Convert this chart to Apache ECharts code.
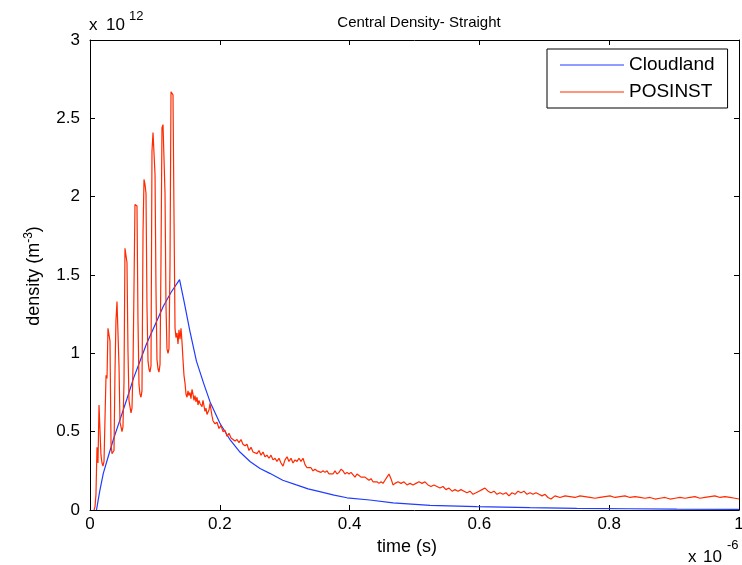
<!DOCTYPE html>
<html>
<head>
<meta charset="utf-8">
<script src="https://cdn.jsdelivr.net/npm/echarts@6/dist/echarts.min.js"></script>
<style>
html,body{margin:0;padding:0;background:#fff;}
#chart{width:742px;height:565px;}
</style>
</head>
<body>
<div id="chart"></div>
<script>
// time in units of 1e-6 s, density in units of 1e12 m^-3
var chartTitle = 'Central Density- Straight';
var seriesNames = ['Cloudland', 'POSINST'];
var xTicks = [0, 0.2, 0.4, 0.6, 0.8, 1];
var yTicks = [0, 0.5, 1, 1.5, 2, 2.5, 3];

var cloudland = [
  [0.010,0],[0.015,0.12],[0.0205,0.234],[0.028,0.34],[0.036,0.45],[0.046,0.574],
  [0.057,0.71],[0.067,0.84],[0.077,0.95],[0.087,1.06],[0.100,1.18],[0.113,1.30],
  [0.125,1.39],[0.138,1.47],[0.145,1.33],[0.154,1.14],[0.164,0.95],[0.175,0.81],
  [0.185,0.69],[0.200,0.555],[0.216,0.447],[0.231,0.37],[0.247,0.308],[0.262,0.265],
  [0.277,0.234],[0.297,0.19],[0.318,0.16],[0.336,0.135],[0.354,0.117],[0.376,0.095],
  [0.396,0.078],[0.431,0.064],[0.467,0.046],[0.524,0.030],[0.596,0.021],[0.678,0.015],
  [0.750,0.011],[0.830,0.008],[0.904,0.006],[1.000,0.004]
];

var posinst = [
  [0.0062,0],[0.0077,0.02],[0.0092,0.10],[0.0108,0.40],[0.0123,0.30],[0.0139,0.67],
  [0.0154,0.66],[0.0169,0.35],[0.0185,0.30],[0.0200,0.28],[0.0216,0.31],[0.0231,0.58],
  [0.0247,0.86],[0.0262,0.84],[0.0277,1.16],[0.0293,1.15],[0.0308,1.08],[0.0324,0.42],
  [0.0339,0.36],[0.0354,0.35],[0.0370,0.38],[0.0385,0.88],[0.0400,1.21],[0.0416,1.33],
  [0.0431,1.32],[0.0447,0.92],[0.0462,0.56],[0.0478,0.53],[0.0493,0.50],[0.0508,0.53],
  [0.0524,0.82],[0.0539,1.67],[0.0555,1.66],[0.0570,1.58],[0.0585,1.02],[0.0601,0.70],
  [0.0616,0.66],[0.0632,0.62],[0.0647,0.65],[0.0663,0.92],[0.0678,1.42],[0.0693,1.95],
  [0.0709,1.96],[0.0724,1.94],[0.0739,1.22],[0.0755,0.80],[0.0770,0.74],[0.0786,0.72],
  [0.0801,0.76],[0.0817,1.77],[0.0832,2.11],[0.0847,2.08],[0.0863,2.02],[0.0878,1.30],
  [0.0894,0.95],[0.0909,0.90],[0.0924,0.88],[0.0940,0.92],[0.0955,2.29],[0.0971,2.41],
  [0.0986,2.40],[0.1002,2.14],[0.1017,1.40],[0.1032,0.96],[0.1048,0.90],[0.1063,0.88],
  [0.1079,0.93],[0.1094,1.60],[0.1109,2.44],[0.1125,2.46],[0.1140,2.45],[0.1156,2.02],
  [0.1171,1.30],[0.1186,1.03],[0.1202,1.00],[0.1217,1.03],[0.1233,1.58],[0.1248,2.67],
  [0.1263,2.66],[0.1279,2.65],[0.1294,1.89],[0.1310,1.16],[0.1325,1.10],[0.1341,1.13],
  [0.1356,1.06],[0.1371,1.15],[0.1387,1.09],[0.1402,1.16],[0.1418,1.07],[0.1433,0.96],
  [0.1448,0.86],[0.1464,0.81],[0.1479,0.74],[0.1495,0.72],[0.1510,0.76],[0.1525,0.73],
  [0.1541,0.75],[0.1556,0.71],[0.1572,0.77],[0.1587,0.74],[0.1602,0.70],[0.1618,0.73],
  [0.1633,0.69],[0.1649,0.72],[0.1664,0.67],[0.1679,0.70],[0.1695,0.68],[0.1726,0.66],
  [0.1741,0.70],[0.1772,0.63],[0.1787,0.65],[0.1803,0.61],[0.1834,0.64],[0.1849,0.68],
  [0.1864,0.69],[0.1880,0.60],[0.1895,0.57],[0.1926,0.55],[0.1957,0.56],[0.1988,0.52],
  [0.2018,0.54],[0.2049,0.50],[0.2080,0.51],[0.2111,0.47],[0.2142,0.49],[0.2173,0.46],
  [0.2203,0.47],[0.2234,0.44],[0.2265,0.45],[0.2296,0.43],[0.2327,0.45],[0.2357,0.42],
  [0.2388,0.41],[0.2419,0.42],[0.2450,0.38],[0.2481,0.40],[0.2512,0.37],[0.2542,0.38],
  [0.2573,0.36],[0.2604,0.38],[0.2635,0.35],[0.2666,0.37],[0.2696,0.34],[0.2727,0.35],
  [0.2758,0.33],[0.2789,0.35],[0.2820,0.32],[0.2851,0.33],[0.2881,0.31],[0.2912,0.33],
  [0.2943,0.30],[0.2974,0.28],[0.3005,0.32],[0.3036,0.34],[0.3066,0.31],[0.3097,0.33],
  [0.3128,0.30],[0.3159,0.32],[0.3190,0.31],[0.3220,0.33],[0.3251,0.31],[0.3282,0.33],
  [0.3313,0.29],[0.3344,0.27],[0.3374,0.26],[0.3405,0.27],[0.3436,0.25],[0.3467,0.26],
  [0.3498,0.25],[0.3528,0.26],[0.3559,0.24],[0.3590,0.25],[0.3621,0.24],[0.3652,0.25],
  [0.3683,0.23],[0.3713,0.24],[0.3744,0.23],[0.3775,0.25],[0.3806,0.23],[0.3837,0.24],
  [0.3867,0.26],[0.3898,0.25],[0.3929,0.23],[0.3960,0.24],[0.3991,0.23],[0.4022,0.24],
  [0.4052,0.23],[0.4083,0.21],[0.4114,0.23],[0.4145,0.22],[0.4176,0.21],[0.4206,0.20],
  [0.4237,0.21],[0.4268,0.20],[0.4299,0.19],[0.4330,0.20],[0.4361,0.18],[0.4391,0.19],
  [0.4422,0.18],[0.4453,0.17],[0.4484,0.18],[0.4515,0.17],[0.4545,0.19],[0.4576,0.21],
  [0.4607,0.23],[0.4638,0.20],[0.4669,0.16],[0.4700,0.17],[0.4746,0.18],[0.4792,0.17],
  [0.4838,0.18],[0.4884,0.16],[0.4931,0.17],[0.4977,0.16],[0.5023,0.17],[0.5069,0.18],
  [0.5116,0.17],[0.5162,0.18],[0.5208,0.16],[0.5254,0.15],[0.5300,0.16],[0.5347,0.15],
  [0.5393,0.14],[0.5439,0.15],[0.5485,0.13],[0.5532,0.14],[0.5578,0.12],[0.5624,0.13],
  [0.5670,0.12],[0.5716,0.13],[0.5763,0.12],[0.5809,0.11],[0.5855,0.12],[0.5901,0.10],
  [0.5948,0.11],[0.5994,0.12],[0.6040,0.13],[0.6086,0.14],[0.6133,0.12],[0.6179,0.11],
  [0.6225,0.12],[0.6271,0.10],[0.6317,0.11],[0.6364,0.10],[0.6410,0.11],[0.6456,0.09],
  [0.6502,0.11],[0.6549,0.10],[0.6595,0.12],[0.6641,0.11],[0.6687,0.12],[0.6733,0.10],
  [0.6780,0.11],[0.6826,0.10],[0.6872,0.11],[0.6918,0.10],[0.6965,0.09],[0.7011,0.10],
  [0.7057,0.08],[0.7103,0.07],[0.7165,0.09],[0.7242,0.08],[0.7319,0.09],[0.7396,0.085],
  [0.7473,0.08],[0.7550,0.09],[0.7627,0.085],[0.7704,0.08],[0.7781,0.075],[0.7858,0.08],
  [0.7935,0.085],[0.8012,0.09],[0.8089,0.08],[0.8166,0.085],[0.8243,0.09],[0.8320,0.08],
  [0.8398,0.085],[0.8475,0.08],[0.8552,0.075],[0.8629,0.08],[0.8706,0.07],[0.8783,0.075],
  [0.8860,0.08],[0.8937,0.07],[0.9014,0.075],[0.9091,0.08],[0.9168,0.075],[0.9245,0.08],
  [0.9322,0.085],[0.9399,0.075],[0.9476,0.08],[0.9553,0.085],[0.9630,0.09],[0.9707,0.08],
  [0.9784,0.085],[0.9861,0.08],[0.9938,0.075],[1.0000,0.07]
];

var FONT = 'Liberation Sans, Arial, sans-serif';
var chart = echarts.init(document.getElementById('chart'), null, {renderer: 'canvas'});

function baseAxis(extra) {
  var a = {
    type: 'value',
    axisLine: {show: true, onZero: false, lineStyle: {color: '#000', width: 1}},
    axisTick: {show: true, inside: true, length: 5, lineStyle: {color: '#000', width: 1}},
    splitLine: {show: false},
    axisLabel: {show: false}
  };
  for (var k in extra) a[k] = extra[k];
  return a;
}

var option = {
  backgroundColor: '#fff',
  animation: false,
  title: {
    text: chartTitle,
    left: 414, top: 10, textAlign: 'center',
    textStyle: {fontFamily: FONT, fontSize: 15, fontWeight: 'normal', color: '#000'}
  },
  grid: {left: 90, right: 3, top: 40, bottom: 55, outerBoundsMode: 'none', containLabel: false},
  legend: {
    orient: 'vertical',
    left: 547, top: 49,
    backgroundColor: '#fff',
    borderColor: '#000', borderWidth: 1, borderRadius: 0,
    padding: [6, 13, 6, 13],
    icon: 'rect',
    itemWidth: 64, itemHeight: 1, itemGap: 7,
    textStyle: {fontFamily: FONT, fontSize: 19, color: '#000', lineHeight: 20},
    data: seriesNames
  },
  xAxis: [
    baseAxis({
      min: 0, max: 1, interval: 0.2, position: 'bottom',
      axisLabel: {show: true, color: '#000', fontFamily: FONT, fontSize: 17, margin: 6,
        formatter: function (v) { return xTicks.indexOf(Math.round(v * 10) / 10) >= 0 ? String(Math.round(v * 10) / 10) : ''; }}
    }),
    baseAxis({min: 0, max: 1, interval: 0.2, position: 'top'})
  ],
  yAxis: [
    baseAxis({
      min: 0, max: 3, interval: 0.5, position: 'left',
      axisLabel: {show: true, color: '#000', fontFamily: FONT, fontSize: 17, margin: 10,
        formatter: function (v) { return String(Math.round(v * 10) / 10); }}
    }),
    baseAxis({min: 0, max: 3, interval: 0.5, position: 'right'})
  ],
  series: [
    {
      name: seriesNames[0], type: 'line', xAxisIndex: 0, yAxisIndex: 0,
      data: cloudland, symbol: 'none', showSymbol: false,
      lineStyle: {color: '#1f3cff', width: 1.2}, itemStyle: {color: '#1f3cff'},
      z: 2
    },
    {
      name: seriesNames[1], type: 'line', xAxisIndex: 0, yAxisIndex: 0,
      data: posinst, symbol: 'none', showSymbol: false,
      lineStyle: {color: '#ff2a00', width: 1.2}, itemStyle: {color: '#ff2a00'},
      z: 3
    }
  ],
  graphic: [
    {type: 'text', left: 89, top: 17, style: {text: 'x', fontFamily: FONT, fontSize: 17, fill: '#000'}},
    {type: 'text', left: 106, top: 17, style: {text: '10', fontFamily: FONT, fontSize: 17, fill: '#000'}},
    {type: 'text', left: 129, top: 10, style: {text: '12', fontFamily: FONT, fontSize: 13, fill: '#000'}},
    {type: 'text', left: 688, top: 549, style: {text: 'x', fontFamily: FONT, fontSize: 17, fill: '#000'}},
    {type: 'text', left: 703, top: 549, style: {text: '10', fontFamily: FONT, fontSize: 17, fill: '#000'}},
    {type: 'text', left: 727, top: 539, style: {text: '-6', fontFamily: FONT, fontSize: 13, fill: '#000'}},
    {type: 'text', left: 377, top: 538, style: {text: 'time (s)', fontFamily: FONT, fontSize: 18, fill: '#000'}},
    {
      type: 'text', x: 33, y: 276, rotation: Math.PI / 2,
      style: {
        text: '{a|density (m}{b|-3}{a|)}',
        align: 'center', verticalAlign: 'middle',
        rich: {
          a: {fontFamily: FONT, fontSize: 18, fill: '#000', verticalAlign: 'bottom'},
          b: {fontFamily: FONT, fontSize: 12, fill: '#000', verticalAlign: 'top', padding: [0, 0, 8, 0]}
        }
      }
    }
  ]
};
chart.setOption(option);
</script>
</body>
</html>
